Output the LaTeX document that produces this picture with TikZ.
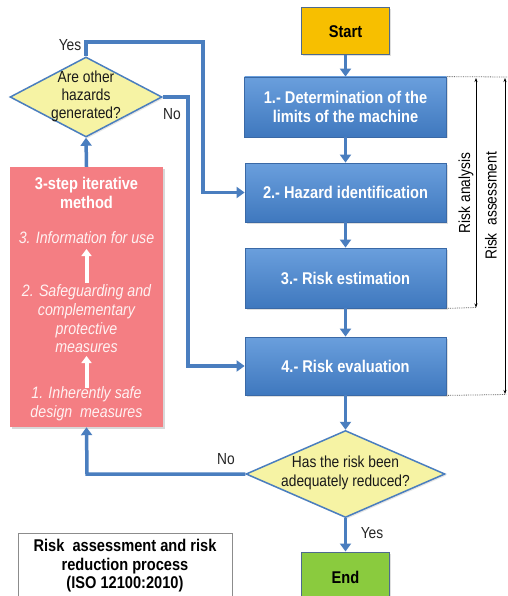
\documentclass[tikz,border=0pt]{standalone}
\usepackage{fontspec}
\setmainfont{Liberation Sans}[FakeStretch=0.86]
\usetikzlibrary{arrows.meta,shapes.geometric,shadows}
\definecolor{lineblue}{HTML}{4A7EBF}
\definecolor{boxtop}{HTML}{6A9FDD}
\definecolor{boxbot}{HTML}{3F78BE}
\definecolor{boxedge}{HTML}{3A69A6}
\definecolor{startfill}{HTML}{F7BF00}
\definecolor{endfill}{HTML}{8ACB3E}
\definecolor{diafill}{HTML}{F6F3A4}
\definecolor{redfill}{HTML}{F47E83}
\definecolor{darkedge}{HTML}{4E6A8E}
\tikzset{
  conn/.style={draw=lineblue, line width=3.5pt, -{Triangle[width=11pt,length=8pt]}},
  stepbox/.style={rectangle, draw=boxedge, line width=0.8pt, top color=boxtop, bottom color=boxbot,
     text=white, font=\fontsize{17}{19.5}\selectfont\bfseries, align=center, inner sep=0pt,
     drop shadow={opacity=0.25, shadow xshift=1.5pt, shadow yshift=-1.5pt}},
  termbox/.style={rectangle, draw=darkedge, line width=1pt, text=black,
     font=\fontsize{17}{19.5}\selectfont\bfseries, inner sep=0pt,
     drop shadow={opacity=0.25, shadow xshift=1.5pt, shadow yshift=-1.5pt}},
  decision/.style={diamond, draw=lineblue, line width=1.5pt, fill=diafill, inner sep=0pt,
     drop shadow={opacity=0.2, shadow xshift=1.5pt, shadow yshift=-1.5pt}},
  dtext/.style={font=\fontsize{16}{19}\selectfont, align=center, text=black!90},
  lbl/.style={font=\fontsize{16}{18}\selectfont, text=black!85},
  redtext/.style={font=\fontsize{16.5}{18.7}\selectfont\itshape, text=white!95!red, align=center},
  dotl/.style={draw=black!60, densely dotted, line width=0.8pt},
  dim/.style={draw=black, line width=0.6pt, {Stealth[length=4pt,width=3pt]}-{Stealth[length=4pt,width=3pt]}},
  whitearrow/.style={draw=white, line width=4pt, -{Triangle[width=10pt,length=7pt]}}
}
\begin{document}
\begin{tikzpicture}[x=1pt,y=-1pt]
\useasboundingbox (0,0) rectangle (507,596);
\fill[white] (0,0) rectangle (507,596);
\begin{scope}
\clip (0,0) rectangle (507,596);
% main column
\node[termbox, fill=startfill, minimum width=88pt, minimum height=47pt] (start) at (345.5,31.5) {Start};
\node[stepbox, minimum width=202pt, minimum height=60pt] (b1) at (345.5,107) {1.- Determination of the\\limits of the machine};
\node[stepbox, minimum width=201pt, minimum height=59pt] (b2) at (345.5,192.5) {2.- Hazard identification};
\node[stepbox, minimum width=201pt, minimum height=60pt] (b3) at (345.5,278) {3.- Risk estimation};
\node[stepbox, minimum width=201pt, minimum height=58pt] (b4) at (345.5,366) {4.- Risk evaluation};
\node[decision, minimum width=199pt, minimum height=87pt] (d2) at (345.5,474) {};
\node[dtext] (d2t) at (345.5,472.5) {Has the risk been\\adequately reduced?};
\node[termbox, fill=endfill, minimum width=88pt, minimum height=50pt] (end) at (345.5,577) {End};
% left column
\node[decision, minimum width=152pt, minimum height=80pt] (d1) at (86,97) {};
\node[dtext, font=\fontsize{16}{18}\selectfont] (d1t) at (86,96) {Are other\\hazards\\generated?};
\node[rectangle, fill=redfill, minimum width=153pt, minimum height=260pt, inner sep=0pt,
      drop shadow={opacity=0.3, shadow xshift=1.5pt, shadow yshift=-1.5pt}] (rm) at (86.5,297) {};
\node[font=\fontsize{17}{19}\selectfont\bfseries, text=white, align=center] (rmt) at (86.5,192.5) {3-step iterative\\method};
\node[redtext] (r3) at (86.5,238) {3. Information for use};
\node[redtext] (r2) at (86.5,319) {2. Safeguarding and\\complementary\\protective\\measures};
\node[redtext] (r1) at (86.5,403.5) {1. Inherently safe\\design\ \ measures};
\coordinate (wa1s) at (86.5,283);
\coordinate (wa1e) at (86.5,249);
\coordinate (wa2s) at (86.5,388);
\coordinate (wa2e) at (86.5,356);
\draw[whitearrow] (wa1s) -- (wa1e);
\draw[whitearrow] (wa2s) -- (wa2e);
% legend
\node[rectangle, draw=black!45, line width=1pt, fill=white, minimum width=214pt, minimum height=75pt] (leg) at (125,570.5) {};
\node[font=\fontsize{17}{18.5}\selectfont\bfseries, align=center] (legt) at (125,566) {Risk\ \ assessment and risk\\reduction process\\(ISO 12100:2010)};
% connectors
\draw[conn] (start.south) -- (b1.north);
\draw[conn] (b1.south) -- (b2.north);
\draw[conn] (b2.south) -- (b3.north);
\draw[conn] (b3.south) -- (b4.north);
\draw[conn] (b4.south) -- (d2.north);
\draw[conn] (d2.south) -- (end.north);
\node[lbl] (yes2) at (372,533) {Yes};
\draw[conn] (d2.west) -- (87,474) -- (rm.south);
\node[lbl] (no2) at (226,459) {No};
\draw[conn] (rm.north) -- (d1.south);
\draw[conn] (d1.north) -- (86,42) -- (203,42) -- (203,192.5) -- (b2.west);
\node[lbl] (yes1) at (70,45) {Yes};
\draw[conn] (d1.east) -- (188,97) -- (188,366) -- (b4.west);
\node[lbl] (no1) at (172,114) {No};
% dimension markers
\coordinate (t1) at (507,77);
\coordinate (a1) at (476,307.5);
\coordinate (a2) at (506,394.5);
\draw[dotl] (b1.north east) -- (t1);
\draw[dotl] (b3.south east) -- (a1);
\draw[dotl] (b4.south east) -- (a2);
\draw[dim] (476,78) -- (a1);
\draw[dim] (505,78) -- (505,394);
\node[font=\fontsize{16}{18}\selectfont, rotate=90] (ra) at (466,193) {Risk analysis};
\node[font=\fontsize{16}{18}\selectfont, rotate=90] (rs) at (491,206) {Risk\ \ assessment};
\end{scope}
\end{tikzpicture}
\end{document}
